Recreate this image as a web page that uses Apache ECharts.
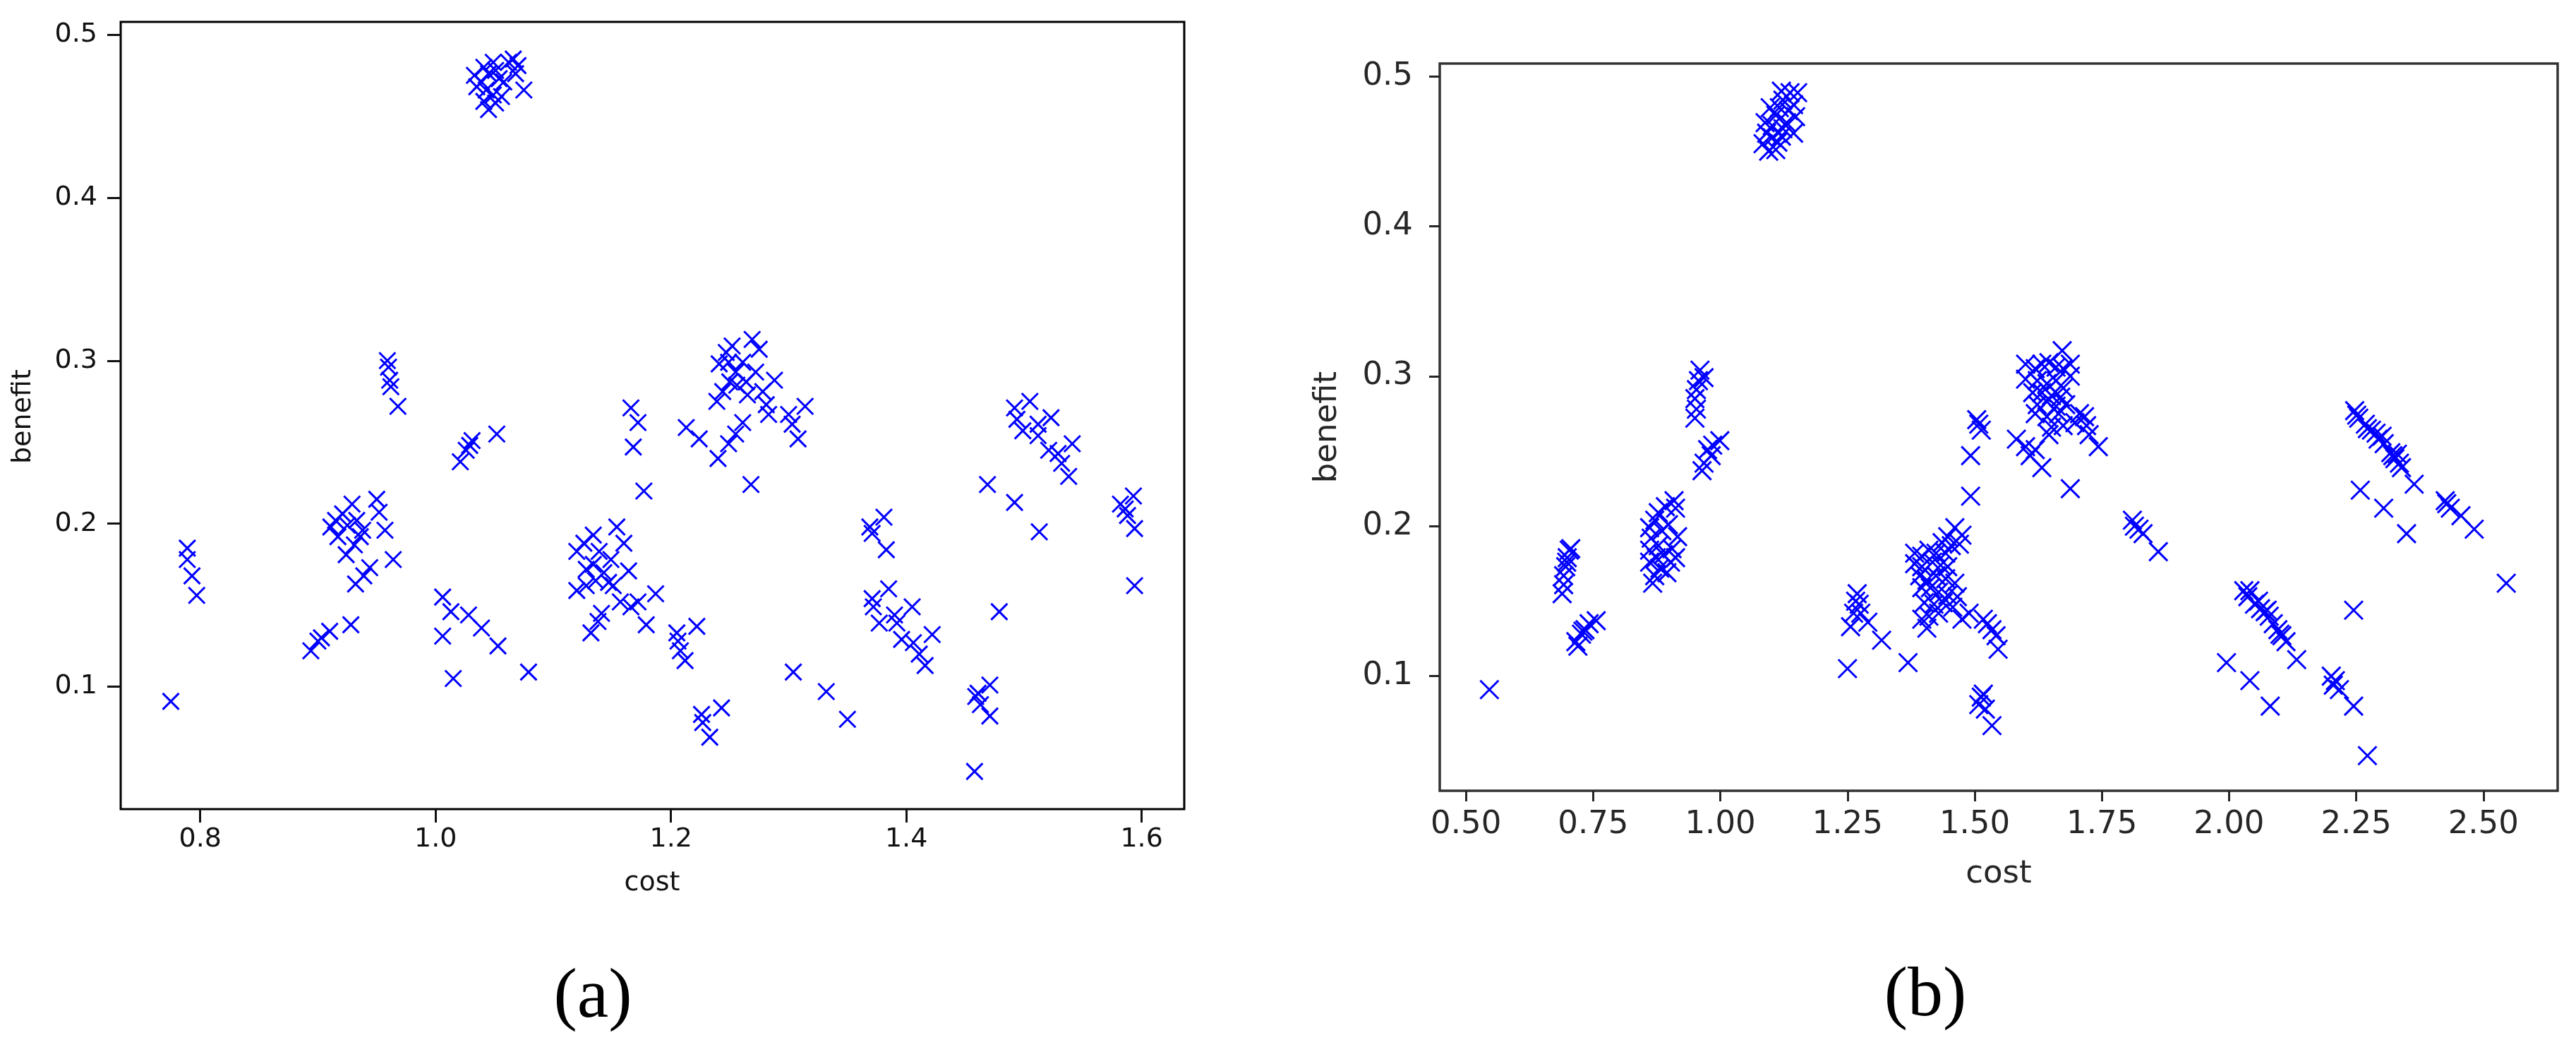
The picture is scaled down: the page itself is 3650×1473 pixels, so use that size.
<!DOCTYPE html>
<html>
<head>
<meta charset="utf-8">
<script src="https://cdn.jsdelivr.net/npm/echarts@6/dist/echarts.min.js"></script>
<style>
html,body{margin:0;padding:0;background:#fff;}
#chart{width:3650px;height:1473px;}
</style>
</head>
<body>
<div id="chart"></div>
<script>
// ---------- Panel (a) data ----------
var costA = [
1.033,1.041,1.049,1.045,1.039,1.051,1.054,1.043,1.049,1.056,1.041,1.045,1.066,1.070,1.068,1.075,1.035,1.051,1.058,1.062,
0.775,0.789,0.789,0.793,0.797,
0.894,0.900,0.903,0.910,0.928,
0.911,0.917,0.921,0.925,0.929,0.933,0.931,0.936,0.924,0.944,0.939,0.932,0.950,0.952,0.957,0.964,0.915,0.938,
0.959,0.960,0.961,0.962,0.968,
1.021,1.026,1.029,1.031,1.052,
1.006,1.013,1.028,1.039,1.053,1.006,1.015,1.079,
1.166,1.172,1.168,1.177,
1.120,1.120,1.126,1.128,1.134,1.134,1.136,1.139,1.143,1.149,1.151,1.154,1.160,1.164,1.157,1.166,1.172,1.179,1.187,1.141,1.132,1.138,1.128,1.147,
1.205,1.206,1.208,1.212,1.222,
1.226,1.227,1.233,1.243,
1.213,1.224,
1.240,1.249,1.255,1.261,1.268,1.239,1.244,1.241,1.247,1.252,1.249,1.255,1.261,1.256,1.264,1.269,1.275,1.272,1.278,1.283,1.288,1.281,1.250,1.265,1.300,1.303,1.308,1.314,
1.304,1.332,1.350,
1.369,1.371,1.381,1.383,
1.371,1.372,1.385,1.377,1.390,1.392,1.405,1.396,1.406,1.422,1.411,1.416,
1.461,1.459,1.471,1.463,1.471,1.458,1.479,1.469,1.492,1.513,
1.492,1.505,1.494,1.499,1.512,1.523,1.512,1.521,1.529,1.541,1.532,1.538,
1.582,1.586,1.593,1.588,1.594,1.594
];
var benefitA = [
0.475,0.480,0.483,0.476,0.471,0.478,0.473,0.466,0.463,0.462,0.459,0.454,0.485,0.481,0.476,0.466,0.468,0.458,0.471,0.483,
0.091,0.185,0.178,0.168,0.156,
0.122,0.128,0.130,0.134,0.138,
0.198,0.192,0.206,0.199,0.212,0.202,0.187,0.192,0.181,0.173,0.168,0.163,0.215,0.207,0.196,0.178,0.202,0.196,
0.300,0.296,0.288,0.284,0.272,
0.238,0.245,0.248,0.251,0.255,
0.155,0.146,0.144,0.136,0.125,0.131,0.105,0.109,
0.271,0.262,0.247,0.220,
0.183,0.159,0.188,0.172,0.193,0.175,0.165,0.183,0.170,0.178,0.162,0.198,0.188,0.171,0.152,0.149,0.152,0.138,0.157,0.145,0.133,0.140,0.162,0.164,
0.133,0.128,0.122,0.116,0.137,
0.083,0.078,0.069,0.087,
0.259,0.252,
0.240,0.249,0.255,0.262,0.224,0.275,0.281,0.298,0.305,0.309,0.299,0.293,0.299,0.285,0.287,0.313,0.307,0.293,0.281,0.267,0.288,0.273,0.287,0.279,0.267,0.261,0.252,0.272,
0.109,0.097,0.080,
0.198,0.194,0.204,0.184,
0.154,0.149,0.160,0.139,0.144,0.139,0.149,0.129,0.127,0.132,0.120,0.113,
0.096,0.094,0.101,0.089,0.082,0.048,0.146,0.224,0.213,0.195,
0.271,0.275,0.264,0.257,0.261,0.265,0.254,0.245,0.243,0.249,0.237,0.229,
0.212,0.209,0.217,0.205,0.197,0.162
];

// ---------- Panel (b) data ----------
var costB = [
0.546,
0.703,0.699,0.696,0.692,0.692,0.689,0.706,0.698,
0.716,0.727,0.734,0.742,0.756,0.720,0.730,
0.867,0.871,0.861,0.861,0.864,0.861,0.871,0.878,0.892,0.909,0.912,0.885,0.898,0.878,0.888,0.902,0.912,0.881,0.895,0.916,0.905,0.874,
0.960,0.968,0.957,0.953,0.950,0.953,0.950,0.975,0.985,0.999,0.968,0.964,0.982,
1.095,1.084,1.109,1.091,1.088,1.102,1.109,1.116,1.123,1.137,1.120,1.144,1.148,1.130,1.144,1.120,1.102,1.134,1.098,1.123,1.113,1.152,
1.269,1.273,1.262,1.276,1.256,1.290,1.317,1.250,1.369,1.266,
1.461,1.475,1.447,1.436,1.454,1.470,1.382,1.396,1.410,1.424,1.443,1.382,1.396,1.417,1.433,1.447,1.392,1.406,1.424,1.443,1.461,1.396,1.413,1.429,1.447,1.466,1.401,1.420,1.438,1.457,1.396,1.410,1.429,1.406,1.475,1.489,
1.517,1.525,1.534,1.542,1.546,
1.513,1.508,1.517,1.521,1.534,
1.504,1.513,1.492,1.492,1.508,
1.672,1.688,1.600,1.619,1.632,1.646,1.660,1.674,1.688,1.600,1.623,1.642,1.660,1.674,1.614,1.632,1.651,1.669,1.623,1.642,1.660,1.679,1.619,1.642,1.665,1.706,1.716,1.697,1.720,1.651,1.674,1.743,1.582,1.600,1.619,1.609,1.632,1.646,1.688,1.725,
1.810,1.823,1.831,1.861,1.814,
2.029,2.037,2.050,2.062,2.071,2.079,2.087,2.096,2.104,2.112,2.133,2.041,2.058,2.075,2.100,1.995,2.041,2.081,
2.201,2.209,2.205,2.217,2.245,2.245,2.272,
2.247,2.255,2.268,2.280,2.289,2.293,2.305,2.318,2.326,2.335,2.339,2.364,2.251,2.272,2.301,2.322,2.331,2.258,2.304,2.349,
2.425,2.435,2.456,2.482,2.428,2.545
];
var benefitB = [
0.091,
0.184,0.179,0.173,0.167,0.161,0.155,0.185,0.176,
0.123,0.128,0.131,0.135,0.137,0.120,0.130,
0.162,0.167,0.176,0.184,0.192,0.199,0.204,0.209,0.213,0.217,0.212,0.197,0.201,0.187,0.181,0.176,0.179,0.172,0.169,0.193,0.185,0.179,
0.304,0.299,0.297,0.291,0.285,0.278,0.272,0.251,0.254,0.257,0.242,0.237,0.247,
0.450,0.455,0.451,0.462,0.469,0.467,0.474,0.479,0.484,0.489,0.490,0.481,0.473,0.469,0.462,0.460,0.459,0.477,0.479,0.465,0.456,0.489,
0.155,0.148,0.142,0.142,0.133,0.136,0.124,0.105,0.109,0.150,
0.199,0.194,0.193,0.189,0.187,0.188,0.182,0.180,0.184,0.182,0.182,0.175,0.173,0.176,0.174,0.173,0.167,0.164,0.167,0.165,0.162,0.159,0.159,0.156,0.154,0.153,0.149,0.148,0.149,0.146,0.138,0.140,0.142,0.132,0.138,0.142,
0.138,0.135,0.131,0.127,0.118,
0.086,0.081,0.088,0.078,0.067,
0.271,0.264,0.247,0.220,0.268,
0.317,0.308,0.308,0.305,0.308,0.309,0.306,0.305,0.300,0.298,0.297,0.295,0.297,0.292,0.289,0.289,0.287,0.286,0.281,0.283,0.280,0.281,0.275,0.273,0.275,0.275,0.273,0.269,0.267,0.266,0.267,0.253,0.258,0.253,0.251,0.247,0.239,0.261,0.225,0.261,
0.204,0.198,0.195,0.183,0.200,
0.157,0.153,0.148,0.145,0.143,0.140,0.135,0.131,0.127,0.123,0.111,0.157,0.150,0.144,0.128,0.109,0.097,0.080,
0.100,0.097,0.094,0.091,0.080,0.144,0.047,
0.277,0.272,0.268,0.264,0.262,0.258,0.255,0.249,0.245,0.242,0.239,0.228,0.274,0.265,0.260,0.247,0.248,0.224,0.212,0.195,
0.217,0.212,0.207,0.198,0.215,0.162
];

// ---------- tick labels ----------
var ticksXA = [0.8, 1.0, 1.2, 1.4, 1.6];
var ticksYA = [0.1, 0.2, 0.3, 0.4, 0.5];
var ticksXB = [0.50, 0.75, 1.00, 1.25, 1.50, 1.75, 2.00, 2.25, 2.50];
var ticksYB = [0.1, 0.2, 0.3, 0.4, 0.5];

function pairs(xs, ys){ var out=[]; for (var i=0;i<xs.length;i++) out.push([xs[i], ys[i]]); return out; }

var FONT = 'DejaVu Sans';
var XMARK = 'path://M0,0L10,10M10,0L0,10';

function xAxisCfg(grid, min, max, ticks, dec, fs, color, tickLen, margin, lw){
  return {
    gridIndex: grid, type: 'value', min: min, max: max,
    axisLine: {show: false}, splitLine: {show: false},
    axisTick: {show: true, inside: false, length: tickLen, customValues: ticks, lineStyle: {color: color, width: lw}},
    axisLabel: {customValues: ticks, margin: margin, fontFamily: FONT, fontSize: fs, color: color,
      formatter: function(v){ return v.toFixed(dec); }}
  };
}
function yAxisCfg(grid, min, max, ticks, fs, color, tickLen, margin, lw){
  return {
    gridIndex: grid, type: 'value', min: min, max: max,
    axisLine: {show: false}, splitLine: {show: false},
    axisTick: {show: true, inside: false, length: tickLen, customValues: ticks, lineStyle: {color: color, width: lw}},
    axisLabel: {customValues: ticks, margin: margin, fontFamily: FONT, fontSize: fs, color: color,
      formatter: function(v){ return v.toFixed(1); }}
  };
}

var chart = echarts.init(document.getElementById('chart'), null, {renderer: 'canvas'});
chart.setOption({
  animation: false,
  backgroundColor: '#ffffff',
  grid: [
    {left: 171, top: 31, width: 1507, height: 1115, show: true, borderColor: '#000000', borderWidth: 3, backgroundColor: 'transparent'},
    {left: 2040, top: 90, width: 1584, height: 1030, show: true, borderColor: '#333333', borderWidth: 3.5, backgroundColor: 'transparent'}
  ],
  xAxis: [
    xAxisCfg(0, 0.7324, 1.6362, ticksXA, 1, 38, '#111111', 19, 24, 3),
    xAxisCfg(1, 0.4484, 2.646, ticksXB, 2, 45, '#262626', 15, 26, 3)
  ],
  yAxis: [
    yAxisCfg(0, 0.0249, 0.5078, ticksYA, 38, '#111111', 19, 33, 3),
    yAxisCfg(1, 0.0236, 0.5084, ticksYB, 45, '#262626', 15, 38, 3)
  ],
  series: [
    {type: 'scatter', xAxisIndex: 0, yAxisIndex: 0, data: pairs(costA, benefitA),
     symbol: XMARK, symbolSize: 23, silent: true,
     itemStyle: {color: '#0000ff', borderColor: '#0000ff', borderWidth: 3, opacity: 1}},
    {type: 'scatter', xAxisIndex: 1, yAxisIndex: 1, data: pairs(costB, benefitB),
     symbol: XMARK, symbolSize: 26, silent: true,
     itemStyle: {color: '#0000ff', borderColor: '#0000ff', borderWidth: 3, opacity: 1}}
  ],
  graphic: [
    {type: 'text', x: 924, y: 1251, style: {text: 'cost', font: '38px "DejaVu Sans"', fill: '#111111', textAlign: 'center', textVerticalAlign: 'middle'}},
    {type: 'text', x: 33, y: 590, rotation: Math.PI/2, style: {text: 'benefit', font: '38px "DejaVu Sans"', fill: '#111111', textAlign: 'center', textVerticalAlign: 'middle'}},
    {type: 'text', x: 2832, y: 1238, style: {text: 'cost', font: '45px "DejaVu Sans"', fill: '#262626', textAlign: 'center', textVerticalAlign: 'middle'}},
    {type: 'text', x: 1881, y: 605, rotation: Math.PI/2, style: {text: 'benefit', font: '45px "DejaVu Sans"', fill: '#262626', textAlign: 'center', textVerticalAlign: 'middle'}},
    {type: 'text', x: 840, y: 1414, style: {text: '(a)', font: '100px "Liberation Serif"', fill: '#000000', textAlign: 'center', textVerticalAlign: 'middle'}},
    {type: 'text', x: 2728, y: 1412, style: {text: '(b)', font: '100px "Liberation Serif"', fill: '#000000', textAlign: 'center', textVerticalAlign: 'middle'}}
  ]
});
</script>
</body>
</html>
